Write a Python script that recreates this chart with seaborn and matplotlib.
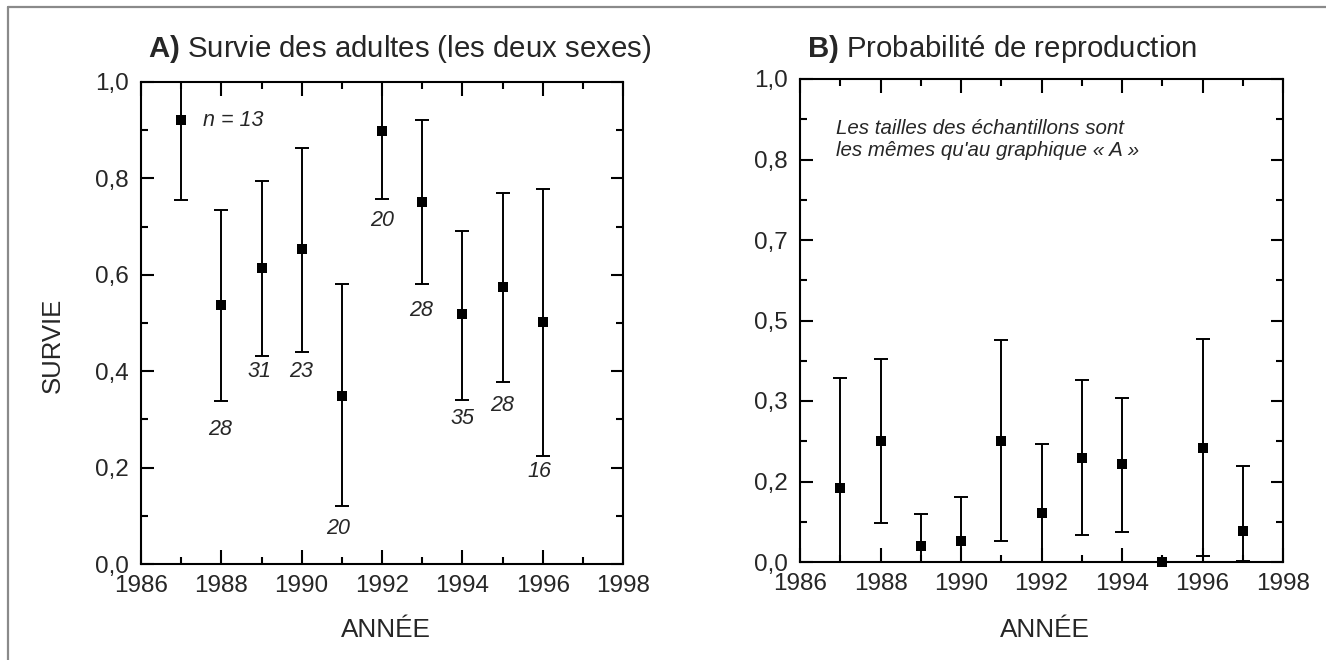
import numpy as np
import matplotlib
matplotlib.use("Agg")
import matplotlib.pyplot as plt
from matplotlib.lines import Line2D
from matplotlib.ticker import FixedLocator, MultipleLocator, FixedFormatter
import seaborn as sns

# ---------------- data ----------------
years_a = [1987, 1988, 1989, 1990, 1991, 1992, 1993, 1994, 1995, 1996]
surv = [0.921, 0.537, 0.614, 0.653, 0.348, 0.899, 0.751, 0.518, 0.575, 0.503]
surv_lo = [0.756, 0.338, 0.431, 0.440, 0.121, 0.757, 0.580, 0.340, 0.377, 0.225]
surv_hi = [1.000, 0.734, 0.795, 0.863, 0.580, 1.000, 0.921, 0.691, 0.769, 0.777]
n_labels = ["n = 13", "28", "31", "23", "20", "20", "28", "35", "28", "16"]
n_label_x = [1987.55, 1987.97, 1988.94, 1989.99, 1990.92, 1992.0, 1992.97, 1994.0, 1995.0, 1995.92]
n_label_y = [0.921, 0.280, 0.399, 0.399, 0.074, 0.713, 0.526, 0.302, 0.328, 0.192]

years_b = [1987, 1988, 1989, 1990, 1991, 1992, 1993, 1994, 1995, 1996, 1997]
repro = [0.153, 0.250, 0.033, 0.044, 0.250, 0.102, 0.216, 0.202, 0.000, 0.236, 0.064]
repro_lo = [0.000, 0.080, 0.000, 0.000, 0.044, 0.000, 0.055, 0.063, np.nan, 0.012, 0.003]
repro_hi = [0.381, 0.421, 0.099, 0.134, 0.459, 0.245, 0.377, 0.340, np.nan, 0.462, 0.199]

x_ticks = [1986, 1988, 1990, 1992, 1994, 1996, 1998]
x_ticklabels = ["1986", "1988", "1990", "1992", "1994", "1996", "1998"]
ya_ticks = [0.0, 0.2, 0.4, 0.6, 0.8, 1.0]
ya_ticklabels = ["0,0", "0,2", "0,4", "0,6", "0,8", "1,0"]
yb_ticks = [0.0, 1 / 6, 2 / 6, 3 / 6, 4 / 6, 5 / 6, 1.0]
yb_ticklabels = ["0,0", "0,2", "0,3", "0,5", "0,7", "0,8", "1,0"]

title_a = r"$\mathbf{A)}$ Survie des adultes (les deux sexes)"
title_b = r"$\mathbf{B)}$ Probabilité de reproduction"
note_b = "Les tailles des échantillons sont\nles mêmes qu'au graphique « A »"

# ---------------- style ----------------
sns.set_theme(style="ticks")
plt.rcParams['font.family'] = ['Liberation Sans', 'DejaVu Sans']
plt.rcParams['mathtext.fontset'] = 'custom'
plt.rcParams['mathtext.rm'] = 'Liberation Sans'
plt.rcParams['mathtext.bf'] = 'Liberation Sans:bold'
plt.rcParams['axes.linewidth'] = 1.5

W, H = 1326, 660
fig = plt.figure(figsize=(W / 100, H / 100), dpi=100)
fig.patch.set_facecolor("white")

ax_a = fig.add_axes([141 / W, 1 - 564 / H, 482 / W, 482 / H])
ax_b = fig.add_axes([800 / W, 1 - 562 / H, 483 / W, 483 / H])


def style_axes(ax, yticks, yticklabels, yminor):
    ax.set_xlim(1986, 1998)
    ax.set_ylim(0, 1.0)
    ax.xaxis.set_major_locator(FixedLocator(x_ticks))
    ax.xaxis.set_major_formatter(FixedFormatter(x_ticklabels))
    ax.xaxis.set_minor_locator(MultipleLocator(1))
    ax.yaxis.set_major_locator(FixedLocator(yticks))
    ax.yaxis.set_major_formatter(FixedFormatter(yticklabels))
    ax.yaxis.set_minor_locator(FixedLocator(yminor))
    ax.tick_params(which='both', direction='in', top=True, right=True,
                   color='black', width=1.5)
    ax.tick_params(axis='x', which='major', length=10, pad=8, labelsize=17.5)
    ax.tick_params(axis='y', which='major', length=9, pad=9, labelsize=17.5)
    ax.tick_params(axis='both', which='minor', length=5)
    for s in ax.spines.values():
        s.set_color('black')
        s.set_linewidth(1.5)
    ax.set_xlabel("")
    ax.set_ylabel("")
    ax.set_facecolor("white")


def draw_series(ax, years, vals, lo, hi):
    years = np.asarray(years, float)
    vals = np.asarray(vals, float)
    lo = np.asarray(lo, float)
    hi = np.asarray(hi, float)
    m = ~np.isnan(lo)
    ax.errorbar(years[m], vals[m], yerr=[vals[m] - lo[m], hi[m] - vals[m]],
                fmt='none', ecolor='black', elinewidth=1.4, capsize=5,
                capthick=1.4, zorder=2)
    sns.scatterplot(x=years, y=vals, ax=ax, marker='s', s=60, color='black',
                    linewidth=0, zorder=3, clip_on=False, legend=False)


# Panel A
draw_series(ax_a, years_a, surv, surv_lo, surv_hi)
style_axes(ax_a, ya_ticks, ya_ticklabels, np.arange(0.1, 1.0, 0.2))
for lab, lx, ly in zip(n_labels, n_label_x, n_label_y):
    ha = 'left' if lab.startswith('n') else 'center'
    ax_a.text(lx, ly, lab, ha=ha, va='center', fontsize=15.5, style='italic')

# Panel B
draw_series(ax_b, years_b, repro, repro_lo, repro_hi)
style_axes(ax_b, yb_ticks, yb_ticklabels, np.arange(1, 12, 2) / 12)
ax_b.text(1986.9, 0.918, note_b, ha='left', va='top', fontsize=14.8,
          style='italic', linespacing=1.22)

# Titles and axis labels
fig.text(148 / W, 1 - 57 / H, title_a, ha='left', va='baseline', fontsize=21.2)
fig.text(807 / W, 1 - 57 / H, title_b, ha='left', va='baseline', fontsize=21.2)
fig.text(386 / W, 1 - 630 / H, "ANNÉE", ha='center', va='center', fontsize=18.8)
fig.text(1045 / W, 1 - 630 / H, "ANNÉE", ha='center', va='center', fontsize=18.8)
fig.text(53 / W, 1 - 345 / H, "SURVIE", ha='center', va='center', rotation=90,
         fontsize=18.5)

# gray frame lines (top and left)
fig.add_artist(Line2D([8 / W, 1], [1 - 7 / H, 1 - 7 / H], transform=fig.transFigure,
                      color='#8a8a8a', lw=1.6))
fig.add_artist(Line2D([8 / W, 8 / W], [0, 1 - 7 / H], transform=fig.transFigure,
                      color='#8a8a8a', lw=1.6))

fig.savefig("out.png", dpi=100, facecolor="white")
